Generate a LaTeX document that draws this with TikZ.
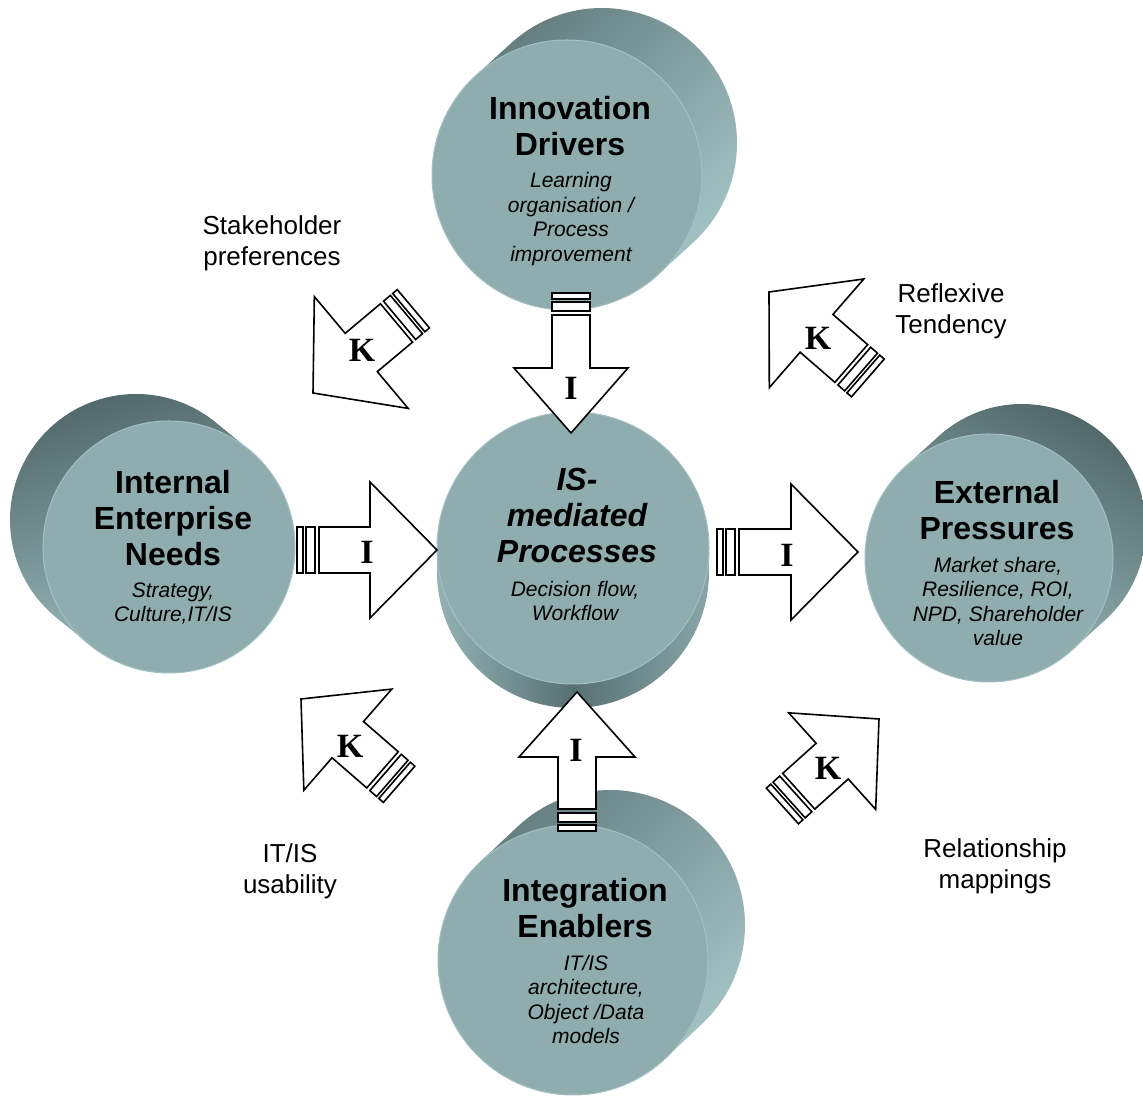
\documentclass[tikz,border=0pt]{standalone}
\usepackage{fontspec}
\setmainfont{Liberation Sans}
\newfontfamily\serifb{Liberation Serif}
\definecolor{face}{HTML}{8FADAF}
\definecolor{rim}{HTML}{A3C1C3}
\definecolor{sidedark}{HTML}{587173}
\definecolor{sidemid}{HTML}{7F9A9B}
\definecolor{sidelight}{HTML}{A8C8CA}
\tikzset{
  arrowline/.style={draw=black, fill=white, line width=1.6pt, line join=miter},
  facestyle/.style={circle, fill=face, draw=rim, line width=1pt, inner sep=0pt},
  title/.style={align=center, inner sep=0pt, font=\fontsize{32}{36}\selectfont\bfseries},
  ititle/.style={align=center, inner sep=0pt, font=\fontsize{32}{36}\selectfont\bfseries\itshape},
  sub/.style={align=center, inner sep=0pt, font=\fontsize{21}{24.5}\selectfont\itshape},
  lbl/.style={align=center, inner sep=0pt, font=\fontsize{26}{31}\selectfont},
  letter/.style={inner sep=0pt, font=\serifb\fontsize{34}{34}\selectfont\bfseries},
}
% cylinder: cx, cy, r, dx, dy, shading, name
\newcommand\cyl[7]{%
  \pgfmathsetmacro\cylph{atan2(#5,#4)}%
  \pgfmathsetmacro\cyla{\cylph-90}%
  \pgfmathsetmacro\cylb{\cylph+90}%
  \pgfmathsetmacro\cylc{\cylph+270}%
  \pgfmathsetmacro\cylbx{#1+(#4)}%
  \pgfmathsetmacro\cylby{#2+(#5)}%
  \pgfmathsetmacro\cylsx{\cylbx+#3*cos(\cyla)}%
  \pgfmathsetmacro\cylsy{\cylby+#3*sin(\cyla)}%
  \pgfmathsetmacro\cyltx{#1+#3*cos(\cylb)}%
  \pgfmathsetmacro\cylty{#2+#3*sin(\cylb)}%
  \shade[#6] (\cylsx,\cylsy) arc[start angle=\cyla, end angle=\cylb, radius=#3]
     -- (\cyltx,\cylty) arc[start angle=\cylb, end angle=\cylc, radius=#3] -- cycle;
  \node[facestyle, minimum size=2*#3pt] (#7) at (#1,#2) {};
}
% block arrow: tip x, tip y, angle, length, head length, shaft half width, head half width
\newcommand\barrow[7]{%
  \pgfmathsetmacro\bra{-#4}%
  \pgfmathsetmacro\brb{-#4+6}%
  \pgfmathsetmacro\brc{-#4+9}%
  \pgfmathsetmacro\brd{-#4+18}%
  \pgfmathsetmacro\bre{-#4+22}%
  \begin{scope}[shift={(#1,#2)}, rotate=#3]
    \draw[arrowline] (0,0) -- (-#5,#7) -- (-#5,#6) -- (\bre,#6) -- (\bre,-#6) -- (-#5,-#6) -- (-#5,-#7) -- cycle;
    \draw[arrowline] (\brc,-#6) rectangle (\brd,#6);
    \draw[arrowline] (\bra,-#6) rectangle (\brb,#6);
  \end{scope}}
\begin{document}
\begin{tikzpicture}[x=1pt, y=1pt]
\useasboundingbox (0,0) rectangle (1143,1097);
% cylinders
\cyl{567}{922}{135}{35}{32}{top color=sidedark!85!sidemid, bottom color=sidelight, shading angle=45}{innov}
\cyl{169}{550}{126}{-33}{27}{top color=sidedark!90!black, bottom color=sidelight, shading angle=15}{internal}
\cyl{989}{539}{124}{33}{30}{top color=sidedark!90!black, bottom color=sidelight, shading angle=-25}{external}
\cyl{573}{137}{135}{37}{35}{top color=sidedark!80!sidemid, bottom color=sidelight, shading angle=45}{integ}
\cyl{573}{549}{136}{0}{-24}{left color=sidelight!75!sidedark, right color=sidelight!60!sidedark, middle color=sidedark}{central}
% texts in cylinders
\node[title] (innovT) at (570,970.5) {Innovation\\Drivers};
\node[sub] (innovS) at (571,878) {Learning\\organisation /\\Process\\improvement};
\node[title] (internalT) at (173,579) {Internal\\Enterprise\\Needs};
\node[sub] (internalS) at (173,493.5) {Strategy,\\Culture,IT/IS};
\node[ititle] (centralT) at (577,582) {IS-\\mediated\\Processes};
\node[sub] (centralS) at (575,496) {Decision flow,\\Workflow};
\node[title] (externalT) at (997,586.5) {External\\Pressures};
\node[sub] (externalS) at (998,495.5) {Market share,\\Resilience, ROI,\\NPD, Shareholder\\value};
\node[title] (integT) at (585,189) {Integration\\Enablers};
\node[sub] (integS) at (586,97.5) {IT/IS\\architecture,\\Object /Data\\models};
% I arrows
\barrow{571}{664}{-90}{140}{65}{19}{57}
\barrow{577}{405}{90}{139}{65}{19}{58}
\barrow{437}{547}{0}{140}{67}{23}{68}
\barrow{858}{545}{0}{141}{67}{23}{68}
% K arrows
\barrow{313}{704}{220}{131}{63}{25}{73}
\barrow{769}{805}{139}{131}{63}{25}{72}
\barrow{301}{398}{139}{130}{62}{24}{67}
\barrow{879}{378}{42}{130}{63}{24}{65}
% letters
\node[letter] (i1) at (571,709) {I};
\node[letter] (i2) at (367,545) {I};
\node[letter] (i3) at (787,542) {I};
\node[letter] (i4) at (576,347) {I};
\node[letter] (k1) at (362,747) {K};
\node[letter] (k2) at (818,759) {K};
\node[letter] (k3) at (350,351) {K};
\node[letter] (k4) at (828,329) {K};
% outer labels
\node[lbl] (l1) at (272,854) {Stakeholder\\preferences};
\node[lbl] (l2) at (951,786) {Reflexive\\Tendency};
\node[lbl] (l3) at (290,226) {IT/IS\\usability};
\node[lbl] (l4) at (995,231) {Relationship\\mappings};
\end{tikzpicture}
\end{document}
